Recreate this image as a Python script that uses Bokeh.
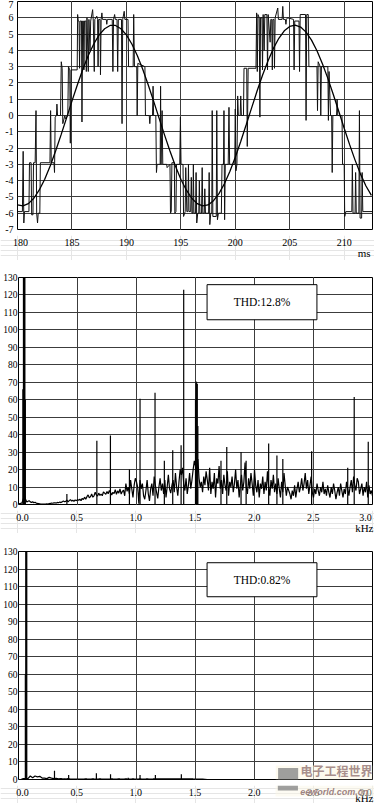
from bokeh.plotting import figure
from bokeh.layouts import column
from bokeh.models import FixedTicker, Grid, Label, Range1d
from bokeh.core.properties import value
from bokeh.embed import file_html
from bokeh.resources import INLINE

SERIF = "Liberation Serif"
GRID_COLOR = "#3c3c3c"

# ---------------- panel 1 : inverter output voltage (ms) ----------------
wave_xticks = [180, 185, 190, 195, 200, 205, 210]
wave_xlabels = ["180", "185", "190", "195", "200", "205", "210"]
wave_unit = "ms"
wave_yticks = [-7, -6, -5, -4, -3, -2, -1, 0, 1, 2, 3, 4, 5, 6, 7]
wave_ylabels = ["-7", "-6", "-5", "-4", "-3", "-2", "-1", "0", "1", "2", "3", "4", "5", "6", "7"]

wave_t = [
    180.00, 180.45, 180.52, 180.58, 180.64, 181.05, 181.10, 181.25,
    181.30, 181.42, 181.47, 181.62, 181.70, 181.76, 181.84, 181.90,
    182.05, 182.10, 182.98, 183.04, 183.10, 183.35, 183.40, 183.46,
    183.58, 183.62, 183.68, 183.95, 184.02, 184.10, 184.16, 184.35,
    184.40, 184.62, 184.68, 184.80, 184.85, 184.92, 185.48, 185.52,
    185.58, 185.65, 185.70, 185.75, 185.88, 185.92, 185.98, 186.05,
    186.10, 186.15, 186.28, 186.32, 186.38, 186.50, 186.56, 186.66,
    186.72, 186.90, 186.96, 187.05, 187.10, 187.28, 187.35, 187.40,
    187.45, 187.58, 187.62, 187.68, 187.75, 187.80, 188.15, 188.20,
    188.25, 188.70, 188.76, 188.82, 188.92, 188.98, 189.14, 189.20,
    189.26, 189.55, 189.60, 189.66, 189.80, 189.86, 190.15, 190.20,
    190.62, 190.67, 190.74, 190.95, 190.99, 191.05, 191.70, 191.75,
    192.10, 192.15, 192.20, 192.40, 192.45, 192.50, 192.70, 192.76,
    192.82, 193.10, 193.14, 193.18, 193.28, 193.34, 193.70, 193.74,
    194.00, 194.05, 194.12, 194.18, 194.40, 194.45, 194.55, 194.60,
    194.90, 194.96, 195.02, 195.20, 195.25, 195.40, 195.45, 195.55,
    195.65, 195.70, 195.75, 195.90, 195.96, 196.02, 196.10, 196.15,
    196.20, 196.35, 196.40, 196.46, 196.55, 196.65, 196.70, 196.75,
    196.90, 196.96, 197.02, 197.15, 197.20, 197.26, 197.55, 197.60,
    197.66, 197.75, 197.84, 197.88, 197.94, 198.25, 198.30, 198.36,
    198.45, 198.72, 198.78, 198.92, 198.96, 199.02, 199.08, 199.35,
    199.42, 199.48, 199.95, 200.00, 200.06, 200.15, 200.22, 200.28,
    200.45, 200.50, 200.56, 200.75, 200.80, 201.05, 201.10, 201.18,
    201.90, 201.96, 202.02, 202.08, 202.20, 202.26, 202.32, 202.45,
    202.50, 202.56, 202.65, 202.71, 202.90, 202.96, 203.02, 203.20,
    203.26, 203.35, 203.40, 203.45, 203.55, 203.60, 203.66, 203.90,
    203.96, 204.30, 204.36, 204.42, 204.60, 204.65, 204.70, 204.80,
    205.35, 205.40, 205.46, 205.85, 205.90, 205.96, 206.45, 206.50,
    206.56, 206.70, 206.76, 207.50, 207.55, 207.61, 207.80, 207.85,
    207.91, 208.50, 208.55, 208.61, 208.75, 208.85, 208.90, 208.96,
    209.30, 209.35, 209.41, 209.80, 209.85, 210.00, 210.05, 210.15,
    210.70, 210.75, 210.81, 211.00, 211.05, 211.11, 211.35, 211.40,
    211.46, 211.60, 211.65, 211.71, 212.60,
]
wave_v = [
    -5.9, -5.9, -2.2, -6.6, -5.9, -5.9, -2.9, -2.9,
    -6.1, -6.1, -2.9, -2.9, 0.3, -6.0, -6.6, -6.0,
    -6.0, -2.9, -2.9, 0.3, -2.9, -2.9, -3.5, -0.1,
    0.0, 0.7, 0.0, 0.0, 3.3, 2.9, -0.5, 0.0,
    -0.2, 0.0, 3.0, 2.8, -1.7, 2.8, 2.8, 6.2,
    5.8, 5.8, 2.9, 5.8, 5.8, -0.4, 5.8, 5.8,
    2.8, 5.8, 5.8, 2.7, 6.0, 2.7, 5.9, 4.0,
    5.8, 6.5, 5.8, 2.7, 5.9, 6.1, 5.9, 3.0,
    5.9, 5.9, 2.5, 5.9, 6.3, 5.9, 5.9, 5.6,
    5.9, 5.9, 2.7, 5.9, 6.2, 5.9, 5.9, 2.7,
    5.9, 5.9, -0.5, 5.9, 6.4, 5.9, 5.9, 3.0,
    3.0, 6.2, 3.0, 3.0, 0.0, 3.2, 3.0, 0.0,
    0.0, -0.5, 0.0, 0.0, 1.8, 0.0, 0.0, -3.5,
    -3.0, -3.0, 1.8, -3.0, 0.3, -3.0, -3.0, -3.2,
    -3.0, -6.0, -5.9, -2.9, -2.9, -6.0, -5.9, -3.0,
    -3.0, -0.1, -3.0, -3.0, -6.2, -5.9, -3.2, -5.9,
    -5.9, -3.0, -5.9, -5.9, -3.8, -6.0, -6.0, -3.0,
    -6.0, -6.0, -3.5, -6.6, -6.0, -6.0, -4.0, -6.0,
    -6.0, -3.2, -6.0, -6.0, -4.5, -6.0, -6.0, -3.5,
    -6.7, -6.0, -6.0, 0.3, -6.2, -6.2, 0.3, -6.4,
    -6.0, -6.0, -3.0, -3.0, 0.3, -6.4, -3.0, -3.0,
    0.5, -3.0, -3.0, 0.4, -3.4, -3.0, 1.2, 0.0,
    0.0, 1.2, 0.0, 0.0, 2.9, 2.9, -1.9, 2.9,
    2.9, 6.3, 2.7, 6.2, 6.0, -0.1, 6.0, 6.0,
    2.8, 6.2, 4.0, 6.2, 6.2, 2.8, 6.2, 4.5,
    5.9, 5.9, 2.8, 5.9, 5.9, 2.9, 6.0, 6.6,
    5.9, 5.9, 6.7, 5.9, 5.9, 5.6, 5.9, 6.0,
    5.9, 2.8, 5.8, 5.8, 2.7, 6.2, 6.2, -0.3,
    6.2, 6.2, 3.0, 3.0, 0.3, 3.3, 3.0, 0.0,
    3.0, 3.0, -0.3, 2.7, 0.0, 0.0, -3.5, 0.0,
    0.0, 1.0, 0.0, 0.0, -3.0, -3.0, -6.2, -5.9,
    -5.9, -3.0, -6.0, -6.0, -3.5, -6.0, -6.0, 0.3,
    -6.3, -6.3, -3.5, -5.9, -5.9,
]

sine_t = [
    180.0, 180.5, 181.0, 181.5, 182.0, 182.5, 183.0, 183.5, 184.0, 184.5,
    185.0, 185.5, 186.0, 186.5, 187.0, 187.5, 188.0, 188.5, 189.0, 189.5,
    190.0, 190.5, 191.0, 191.5, 192.0, 192.5, 193.0, 193.5, 194.0, 194.5,
    195.0, 195.5, 196.0, 196.5, 197.0, 197.5, 198.0, 198.5, 199.0, 199.5,
    200.0, 200.5, 201.0, 201.5, 202.0, 202.5, 203.0, 203.5, 204.0, 204.5,
    205.0, 205.5, 206.0, 206.5, 207.0, 207.5, 208.0, 208.5, 209.0, 209.5,
    210.0, 210.5, 211.0, 211.5, 212.0, 212.5,
]
sine_v = [
    -5.49, -5.55, -5.41, -5.08, -4.57, -3.91, -3.10, -2.18, -1.19, -0.16,
    0.88, 1.89, 2.84, 3.68, 4.39, 4.95, 5.33, 5.53, 5.53, 5.33,
    4.95, 4.39, 3.68, 2.84, 1.89, 0.88, -0.16, -1.19, -2.18, -3.10,
    -3.91, -4.57, -5.08, -5.41, -5.55, -5.49, -5.23, -4.80, -4.19, -3.44,
    -2.56, -1.60, -0.57, 0.47, 1.50, 2.47, 3.35, 4.12, 4.74, 5.20,
    5.47, 5.55, 5.43, 5.12, 4.63, 3.98, 3.18, 2.28, 1.29, 0.26,
    -0.78, -1.79, -2.74, -3.60, -4.33, -4.90,
]

# ---------------- panels 2 and 3 : spectra (kHz) ----------------
spec_xticks = [0.0, 0.5, 1.0, 1.5, 2.0, 2.5, 3.0]
spec_xlabels = ["0.0", "0.5", "1.0", "1.5", "2.0", "2.5", "3.0"]
spec_unit = "kHz"
spec_yticks = [0, 10, 20, 30, 40, 50, 60, 70, 80, 90, 100, 110, 120, 130]
spec_ylabels = ["0", "10", "20", "30", "40", "50", "60", "70", "80", "90", "100", "110", "120", "130"]

# before filtering: noise floor sampled every 0.01 kHz from 0.00 to 3.00
before_f = [round(i * 0.01, 2) for i in range(301)]
before_floor = [
    0.3, 0.5, 0.6, 1.0, 3.0, 5.0, 3.0, 1.5, 1.8, 2.2,
    1.5, 1.2, 1.6, 1.0, 1.3, 0.8, 0.6, 0.5, 0.4, 0.3,
    0.3, 0.2, 0.3, 0.2, 0.4, 0.3, 0.5, 0.6, 0.8, 0.7,
    0.9, 1.0, 0.8, 1.2, 1.0, 1.4, 1.1, 1.5, 2.0, 1.6,
    1.8, 2.5, 1.5, 2.2, 2.8, 2.0, 2.4, 1.8, 2.6, 2.2,
    2.8, 2.4, 3.0, 2.2, 3.5, 2.8, 4.2, 3.0, 4.5, 5.5,
    3.8, 4.5, 6.0, 4.2, 5.0, 7.0, 5.5, 4.8, 6.5, 5.2,
    6.0, 5.0, 7.2, 6.5, 5.8, 7.5, 6.2, 8.0, 6.8, 5.5,
    7.0, 6.2, 8.5, 5.8, 7.8, 6.5, 9.0, 6.0, 7.5, 8.2,
    5.0, 12.0, 7.5, 10.0, 6.0, 14.0, 9.0, 4.0, 11.0, 15.0,
    13.0, 10.0, 0.5, 14.0, 9.0, 12.0, 5.0, 3.0, 8.0, 14.0,
    6.0, 2.0, 9.0, 12.0, 5.0, 16.0, 11.0, 7.0, 3.5, 10.0,
    15.0, 8.0, 12.0, 6.0, 14.0, 4.0, 10.0, 17.0, 9.0, 6.5,
    11.0, 14.0, 7.0, 18.0, 10.0, 5.0, 13.0, 20.0, 17.0, 21.0,
    12.0, 8.0, 15.0, 6.0, 11.0, 18.0, 9.0, 14.0, 20.0, 25.0,
    22.0, 18.0, 26.0, 15.0, 10.0, 13.0, 7.0, 16.0, 11.0, 19.0,
    14.0, 8.0, 21.0, 6.0, 13.0, 9.0, 18.0, 4.0, 15.0, 12.0,
    22.0, 9.0, 14.0, 6.0, 17.0, 11.0, 8.0, 19.0, 5.0, 13.0,
    10.0, 16.0, 7.0, 12.0, 20.0, 9.0, 14.0, 4.0, 11.0, 17.0,
    8.0, 13.0, 24.0, 10.0, 6.0, 15.0, 9.0, 18.0, 12.0, 5.0,
    20.0, 11.0, 7.0, 14.0, 4.0, 12.0, 9.0, 16.0, 6.0, 13.0,
    8.0, 19.0, 10.0, 5.0, 14.0, 9.0, 17.0, 7.0, 12.0, 6.0,
    15.0, 9.0, 4.0, 13.0, 7.0, 18.0, 11.0, 5.0, 10.0, 8.0,
    6.0, 3.0, 8.0, 5.0, 11.0, 4.0, 9.0, 13.0, 7.0, 10.0,
    15.0, 8.0, 12.0, 18.0, 9.0, 14.0, 6.0, 11.0, 16.0, 7.0,
    4.0, 9.0, 6.0, 12.0, 8.0, 5.0, 10.0, 7.0, 13.0, 6.0,
    9.0, 5.0, 11.0, 7.0, 4.0, 10.0, 6.0, 12.0, 8.0, 3.0,
    7.0, 10.0, 5.0, 12.0, 8.0, 4.0, 9.0, 6.0, 13.0, 9.0,
    5.0, 10.0, 14.0, 7.0, 16.0, 11.0, 8.0, 15.0, 13.0, 6.0,
    9.0, 12.0, 5.0, 10.0, 7.0, 13.0, 4.0, 11.0, 6.0, 8.0,
    5.0,
]
before_peak_f = [0.037, 0.042, 0.046, 0.050, 0.054, 0.058,
                 0.41, 0.664, 0.779, 0.94, 1.03, 1.157, 1.236, 1.307, 1.378, 1.40,
                 1.500, 1.505, 1.510, 1.515, 1.520, 1.716, 1.765, 1.886, 1.929,
                 2.12, 2.19, 2.24, 2.484, 2.79, 2.845, 2.964]
before_peak_a = [66, 135, 135, 135, 135, 60,
                 6, 36.5, 39.5, 20, 60.5, 64, 25, 31, 34, 123,
                 60, 70.5, 70, 69, 45, 25, 33, 30, 25,
                 35, 28, 26, 30.5, 21, 61.5, 36]
before_thd = "THD:12.8%"

# after filtering: floor sampled every 0.02 kHz from 0.00 to 3.00
after_f = [round(i * 0.02, 2) for i in range(151)]
after_floor = [
    0.0, 0.0, 0.5, 0.5, 0.5, 2.0, 1.0, 2.0, 1.5, 1.8,
    0.8, 0.8, 0.5, 1.2, 0.8, 0.5, 0.6, 0.4, 0.5, 0.3,
    0.3, 0.5, 0.3, 0.2, 0.3, 0.2, 0.3, 0.2, 0.3, 0.3,
    0.2, 0.3, 0.3, 0.2, 0.3, 0.3, 0.2, 0.3, 0.2, 0.3,
    0.3, 0.2, 0.3, 0.3, 0.2, 0.3, 0.3, 0.2, 0.3, 0.3,
    0.2, 0.3, 0.3, 0.2, 0.3, 0.3, 0.2, 0.3, 0.3, 0.3,
    0.3, 0.3, 0.3, 0.3, 0.3, 0.3, 0.3, 0.3, 0.3, 0.3,
    0.3, 0.3, 0.3, 0.3, 0.3, 0.2, 0.2, 0.2, 0.2, 0.1,
    0.0, 0.0, 0.0, 0.0, 0.0, 0.0, 0.0, 0.0, 0.0, 0.0,
    0.0, 0.0, 0.0, 0.0, 0.0, 0.0, 0.0, 0.0, 0.0, 0.0,
    0.0, 0.0, 0.0, 0.0, 0.0, 0.0, 0.0, 0.0, 0.0, 0.0,
    0.0, 0.0, 0.0, 0.0, 0.0, 0.0, 0.0, 0.0, 0.0, 0.0,
    0.0, 0.0, 0.0, 0.0, 0.0, 0.0, 0.0, 0.0, 0.0, 0.0,
    0.0, 0.0, 0.0, 0.0, 0.0, 0.0, 0.0, 0.0, 0.0, 0.0,
    0.0, 0.0, 0.0, 0.0, 0.0, 0.0, 0.0, 0.0, 0.0, 0.0,
    0.0,
]
after_peak_f = [0.058, 0.062, 0.066, 0.070,
                0.305, 0.425, 0.66, 0.78, 0.93, 1.03, 1.16, 1.38]
after_peak_a = [60, 135, 135, 135,
                5, 2.5, 3.5, 3.0, 1.0, 2.5, 2.5, 3.0]
after_thd = "THD:0.82%"

watermark_cn = "电子工程世界"
watermark_en = "eeworld.com.cn"

THD_LEFT, THD_RIGHT = 1.598, 2.529
FRAME_W = 355      # plot frame width in px
LEFT, RIGHT = 17, 2


def main_fig(height, top, xr, yr, yticks, ylabels, ystand, yfont):
    p = figure(width=374, height=height, x_range=Range1d(*xr), y_range=Range1d(*yr),
               output_backend="svg", toolbar_location=None, x_axis_location=None,
               y_axis_location="left", title=None, frame_align=False,
               min_border_left=LEFT, min_border_right=RIGHT,
               min_border_top=top, min_border_bottom=6,
               background_fill_color="white", border_fill_color="white",
               outline_line_color="black", outline_line_width=1)
    ax = p.yaxis[0]
    ax.ticker = FixedTicker(ticks=yticks)
    ax.major_label_overrides = {t: s for t, s in zip(yticks, ylabels)}
    ax.major_label_text_font = SERIF
    ax.major_label_text_font_size = yfont
    ax.major_label_text_color = "black"
    ax.major_label_standoff = ystand
    ax.major_tick_out = 0
    ax.major_tick_in = 0
    ax.minor_tick_out = 0
    ax.minor_tick_in = 0
    ax.axis_line_color = None
    p.ygrid.ticker = FixedTicker(ticks=yticks)
    p.ygrid.grid_line_color = GRID_COLOR
    p.ygrid.grid_line_width = 1
    return p


def add_xgrid(p, xticks):
    p.add_layout(Grid(dimension=0, ticker=FixedTicker(ticks=xticks),
                      grid_line_color=GRID_COLOR, grid_line_width=1))


def label_strip(height, xr):
    upp = (xr[1] - xr[0]) / FRAME_W
    s = figure(width=374, height=height,
               x_range=Range1d(xr[0] - LEFT * upp, xr[1] + RIGHT * upp),
               y_range=Range1d(0, height),
               output_backend="svg", toolbar_location=None,
               x_axis_location=None, y_axis_location=None, title=None,
               frame_align=False,
               min_border=0, min_border_left=0, min_border_right=0,
               min_border_top=0, min_border_bottom=0, outline_line_color=None,
               background_fill_color="white", border_fill_color="white")
    return s


def strip_texts(s, height, xr, xticks, xlabels, offs, base_px, unit, unit_base_px, unit_off):
    s.text(x=xticks, y=[height - base_px] * len(xticks), text=xlabels, x_offset=offs,
           text_align="center", text_baseline="alphabetic",
           text_font=value(SERIF), text_font_size="10px", text_color="black")
    s.text(x=[xr[1]], y=[height - unit_base_px], text=[unit], x_offset=unit_off,
           text_align="right", text_baseline="alphabetic",
           text_font=value(SERIF), text_font_size="11px", text_color="black")


# ---- panel 1 (y 0..260)
wave_xr = (180, 212.6)
p1 = main_fig(235, 1, wave_xr, (-7, 7), wave_yticks, wave_ylabels, 4, "10px")
add_xgrid(p1, wave_xticks)
p1.line(wave_t, wave_v, line_color="#111111", line_width=1)
p1.line(sine_t, sine_v, line_color="black", line_width=1.3)
s1 = label_strip(25, wave_xr)
strip_texts(s1, 25, wave_xr, wave_xticks, wave_xlabels, [3, 0, 0, 0, 0, 0, 0],
            6.5, wave_unit, 17.5, -2)


def spectrum(height, top, f, floor, pf, pa, thd, box_b, box_t, lw):
    p = main_fig(height, top, (0, 3.0), (0, 130), spec_yticks, spec_ylabels, 1, "9.5px")
    add_xgrid(p, spec_xticks)
    p.line(f, floor, line_color="black", line_width=lw)
    p.segment(x0=pf, y0=[0] * len(pf), x1=pf, y1=pa, line_color="black", line_width=1.2)
    p.quad(left=THD_LEFT, right=THD_RIGHT, bottom=box_b, top=box_t,
           fill_color="white", line_color="black", line_width=1)
    p.add_layout(Label(x=(THD_LEFT + THD_RIGHT) / 2, y=(box_b + box_t) / 2,
                       text=thd, text_align="center", text_baseline="middle",
                       text_font=SERIF, text_font_size="11.5px", text_color="black"))
    return p


# ---- panel 2 (y 260..533)
spec_xr = (0, 3.0)
p2 = spectrum(250, 17, before_f, before_floor, before_peak_f, before_peak_a,
              before_thd, 105.8, 125.9, 1.2)
s2 = label_strip(23, spec_xr)
strip_texts(s2, 23, spec_xr, spec_xticks, spec_xlabels, [5, 0, 0, 0, 0, 0, -7],
            7.3, spec_unit, 17.0, 1)

# ---- panel 3 (y 533..803)
p3 = spectrum(252, 18, after_f, after_floor, after_peak_f, after_peak_a,
              after_thd, 104.2, 123.6, 1.2)
s3 = label_strip(18, spec_xr)
strip_texts(s3, 18, spec_xr, spec_xticks, spec_xlabels, [5, 0, 0, 0, 0, 0, -7],
            6.7, spec_unit, 12.5, 1)

# watermark of the source site, bottom right of the last panel (semi-transparent)
p3.quad(left=2.18, right=3.0, bottom=0, top=8, fill_color="#fbf6e4", fill_alpha=0.6,
        line_color=None)
p3.quad(left=2.20, right=2.37, bottom=0, top=6.5, fill_color="#8e8e8e",
        fill_alpha=0.85, line_color=None)
s3.quad(left=2.18, right=3.05, bottom=7, top=18, fill_color="#fbf6e4", fill_alpha=0.45,
        line_color=None)
s3.quad(left=2.20, right=2.37, bottom=13, top=18, fill_color="#8e8e8e",
        fill_alpha=0.85, line_color=None)
p3.add_layout(Label(x=2.39, y=0, y_offset=1, text=watermark_cn, text_align="left",
                    text_baseline="bottom", text_font="Noto Sans CJK SC",
                    text_font_style="bold", text_font_size="12px",
                    text_color="#9c8080", text_alpha=0.9))
s3.text(x=[2.39], y=[18 - 6.5], text=[watermark_en], text_align="left",
        text_baseline="alphabetic", text_font=value("Liberation Sans"),
        text_font_style="bold italic", text_font_size="9px",
        text_color="#8c6c6c", text_alpha=0.85)

layout = column(p1, s1, p2, s2, p3, s3, spacing=0)
open("out.html", "w").write(file_html(layout, INLINE))
